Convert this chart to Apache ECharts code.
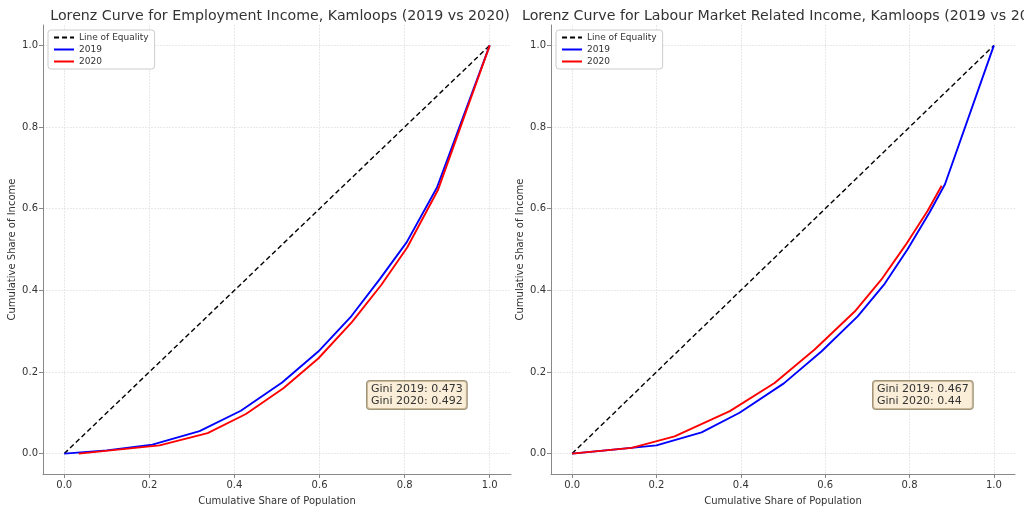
<!DOCTYPE html>
<html>
<head>
<meta charset="utf-8">
<script src="https://cdn.jsdelivr.net/npm/echarts@6/dist/echarts.min.js"></script>
<style>html,body{margin:0;padding:0;background:#fff;}#c{width:1024px;height:512px;}</style>
</head>
<body>
<div id="c"></div>
<script>
// ---- data ----
const equality = [[0, 0], [1, 1]];
const emp2019 = [[0, 0], [0.1, 0.008], [0.207, 0.022], [0.318, 0.055], [0.415, 0.105], [0.512, 0.174], [0.597, 0.25], [0.675, 0.337], [0.742, 0.428], [0.805, 0.518], [0.876, 0.652], [1, 1]];
const emp2020 = [[0.034, 0], [0.224, 0.02], [0.337, 0.05], [0.427, 0.097], [0.515, 0.16], [0.597, 0.233], [0.676, 0.322], [0.745, 0.413], [0.806, 0.505], [0.878, 0.645], [1, 1]];
const lab2019 = [[0, 0], [0.14, 0.014], [0.2, 0.02], [0.307, 0.052], [0.397, 0.1], [0.502, 0.172], [0.591, 0.25], [0.677, 0.336], [0.741, 0.416], [0.795, 0.5], [0.848, 0.592], [0.884, 0.66], [1, 1]];
const lab2020 = [[0, 0], [0.141, 0.014], [0.243, 0.042], [0.374, 0.104], [0.48, 0.173], [0.575, 0.255], [0.67, 0.348], [0.733, 0.426], [0.79, 0.51], [0.843, 0.595], [0.876, 0.656]];
const tickValues = [0, 0.2, 0.4, 0.6, 0.8, 1.0];
const titles = ['Lorenz Curve for Employment Income, Kamloops (2019 vs 2020)', 'Lorenz Curve for Labour Market Related Income, Kamloops (2019 vs 2020)'];
const giniTexts = ['Gini 2019: 0.473\nGini 2020: 0.492', 'Gini 2019: 0.467\nGini 2020: 0.44'];
const seriesNames = ['Line of Equality', '2019', '2020'];

const FONT = 'DejaVu Sans';
const grids = [
  {left: 43, top: 25, width: 468, height: 449},
  {left: 551, top: 25, width: 464, height: 449}
];

function xAx(i) {
  return {
    type: 'value', gridIndex: i, min: -0.05, max: 1.05,
    name: 'Cumulative Share of Population', nameLocation: 'middle', nameGap: 22,
    nameTextStyle: {fontFamily: FONT, fontSize: 10, color: '#333'},
    axisLine: {show: true, onZero: false, lineStyle: {color: '#888', width: 1}},
    axisTick: {show: true, length: 4, lineStyle: {color: '#888'}, customValues: tickValues},
    axisLabel: {customValues: tickValues, formatter: v => v.toFixed(1), fontFamily: FONT, fontSize: 10, color: '#333', margin: 6},
    splitLine: {show: true, lineStyle: {color: '#e3e3e3', width: 0.8, type: [2, 1]}}
  };
}
function yAx(i) {
  return {
    type: 'value', gridIndex: i, min: -0.05, max: 1.05,
    name: 'Cumulative Share of Income', nameLocation: 'middle', nameGap: 26,
    nameTextStyle: {fontFamily: FONT, fontSize: 10, color: '#333'},
    axisLine: {show: true, onZero: false, lineStyle: {color: '#888', width: 1}},
    axisTick: {show: true, length: 4, lineStyle: {color: '#888'}, customValues: tickValues},
    axisLabel: {customValues: tickValues, formatter: v => v.toFixed(1), fontFamily: FONT, fontSize: 10, color: '#333', margin: 5},
    splitLine: {show: true, lineStyle: {color: '#e3e3e3', width: 0.8, type: [2, 1]}}
  };
}
function sers(i, d19, d20) {
  return [
    {name: seriesNames[0], type: 'line', xAxisIndex: i, yAxisIndex: i, data: equality, symbol: 'none', lineStyle: {color: '#000', width: 1.4, type: [5, 3]}, itemStyle: {color: '#000'}, z: 3},
    {name: seriesNames[1], type: 'line', xAxisIndex: i, yAxisIndex: i, data: d19, symbol: 'none', lineStyle: {color: '#0000ff', width: 1.9}, itemStyle: {color: '#0000ff'}, z: 4},
    {name: seriesNames[2], type: 'line', xAxisIndex: i, yAxisIndex: i, data: d20, symbol: 'none', lineStyle: {color: '#ff0000', width: 1.9}, itemStyle: {color: '#ff0000'}, z: 5}
  ];
}
function leg(left) {
  return {
    left: left, top: 30, orient: 'vertical', itemWidth: 20, itemHeight: 8, itemGap: 3,
    backgroundColor: '#fff', borderColor: '#ccc', borderWidth: 1, borderRadius: 3, padding: [3, 6, 3, 5],
    textStyle: {fontFamily: FONT, fontSize: 9, color: '#333'},
    itemStyle: {opacity: 0},
    data: seriesNames.slice(), selectedMode: false
  };
}

const chart = echarts.init(document.getElementById('c'), null, {renderer: 'canvas'});
chart.setOption({
  animation: false,
  backgroundColor: '#fff',
  title: [
    {text: titles[0], left: 275, top: 4, textAlign: 'center', textStyle: {fontFamily: FONT, fontSize: 14.2, fontWeight: 'normal', color: '#333'}},
    {text: titles[1], left: 517, top: 4, textStyle: {fontFamily: FONT, fontSize: 14.2, fontWeight: 'normal', color: '#333'}}
  ],
  legend: [leg(48), leg(556)],
  grid: grids,
  xAxis: [xAx(0), xAx(1)],
  yAxis: [yAx(0), yAx(1)],
  series: [].concat(sers(0, emp2019, emp2020), sers(1, lab2019, lab2020)),
  graphic: [
    {type: 'text', left: 366, top: 380, z: 10, style: {text: giniTexts[0], font: '11px "DejaVu Sans"', fill: '#333', lineHeight: 12, backgroundColor: 'rgba(245,222,179,0.5)', borderColor: '#a0957c', borderWidth: 1, borderRadius: 3, padding: [2, 4, 2, 4]}},
    {type: 'text', left: 872, top: 380, z: 10, style: {text: giniTexts[1], font: '11px "DejaVu Sans"', fill: '#333', lineHeight: 12, backgroundColor: 'rgba(245,222,179,0.5)', borderColor: '#a0957c', borderWidth: 1, borderRadius: 3, padding: [2, 4, 2, 4]}}
  ]
});
</script>
</body>
</html>
